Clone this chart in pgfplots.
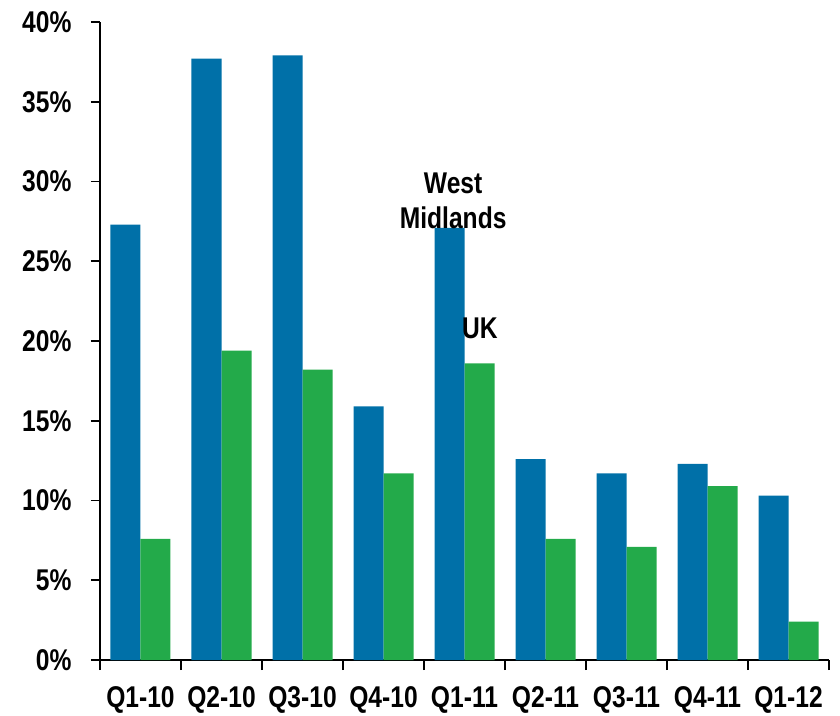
\documentclass[border=0pt]{standalone}
\usepackage{pgfplots}
\pgfplotsset{compat=1.18}
\usepackage{fontspec}
\setmainfont{Liberation Sans}[FakeStretch=0.82]
\definecolor{wmblue}{HTML}{0070A8}
\definecolor{ukgreen}{HTML}{23AA4A}
\begin{document}
\begin{tikzpicture}
\useasboundingbox (-100pt,-55pt) rectangle (740pt,660pt);
\begin{axis}[
  at={(0pt,0pt)}, anchor=south west,
  scale only axis, width=729pt, height=638pt,
  ybar=0pt, bar width=30pt,
  xmin=-0.5, xmax=8.5, ymin=0, ymax=40,
  axis x line*=bottom, axis y line*=left,
  axis line style={line width=1.6pt,-},
  every tick/.style={line width=1.6pt,black},
  tick align=outside,
  xtick={0,...,8},
  xticklabels={Q1-10,Q2-10,Q3-10,Q4-10,Q1-11,Q2-11,Q3-11,Q4-11,Q1-12},
  x tick label style={font=\fontsize{30}{34}\selectfont\bfseries, yshift=-14pt},
  major x tick style={draw=none},
  extra x ticks={-0.5,0.5,1.5,2.5,3.5,4.5,5.5,6.5,7.5,8.5},
  extra x tick labels={},
  extra x tick style={major tick length=10pt, major x tick style={draw=black}},
  ytick={0,5,...,40},
  major tick length=9pt,
  yticklabel={\pgfmathprintnumber{\tick}\%},
  /pgf/number format/assume math mode=true,
  y tick label style={font=\fontsize{30}{34}\selectfont\bfseries, xshift=-16pt},
]
\addplot[fill=wmblue, draw=none] coordinates {(0,27.3) (1,37.7) (2,37.9) (3,15.9) (4,27.1) (5,12.6) (6,11.7) (7,12.3) (8,10.3)};
\addplot[fill=ukgreen, draw=none] coordinates {(0,7.6) (1,19.4) (2,18.2) (3,11.7) (4,18.6) (5,7.6) (6,7.1) (7,10.9) (8,2.4)};
\node[font=\fontsize{30}{35}\selectfont\bfseries, align=center] at (axis cs:3.86,28.8) {West\\Midlands};
\node[font=\fontsize{30}{35}\selectfont\bfseries] at (axis cs:4.19,20.8) {UK};
\end{axis}
\end{tikzpicture}
\end{document}
